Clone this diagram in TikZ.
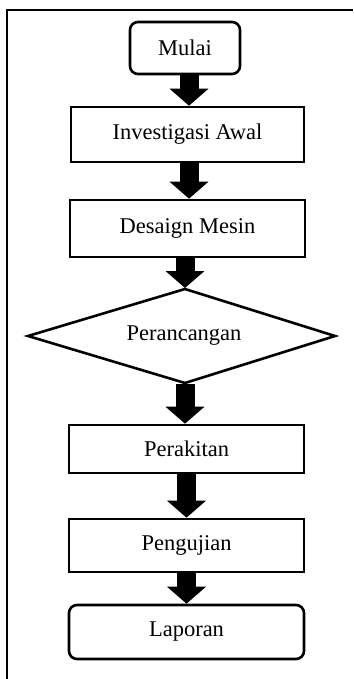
\documentclass[tikz,border=0pt]{standalone}
\usepackage{fontspec}
\setmainfont{Liberation Serif}
\usetikzlibrary{arrows.meta}
\begin{document}
\begin{tikzpicture}[x=1pt,y=1pt,
  lbl/.style={inner sep=0pt, font=\fontsize{22.5}{26}\selectfont},
  box/.style={lbl, draw=black, line width=2.6pt, fill=white},
  rbox/.style={box, rounded corners=8pt},
  dialine/.style={draw=black, line width=2.6pt, line join=miter, fill=white},
  blockarrow/.style={line width=19pt, -{Triangle[width=38pt,length=17pt]}}]
\useasboundingbox (0,0) rectangle (353,-679);
\fill[white] (0,0) rectangle (353,-679);
\coordinate (f1) at (353,-10);
\coordinate (f2) at (7,-10);
\coordinate (f3) at (7,-679);
\draw[line width=1.8pt] (f1) -- (f2) -- (f3);
\node[rbox, minimum width=110pt, minimum height=52pt] (mulai) at (185,-48) {Mulai};
\node[box, minimum width=233pt, minimum height=55pt] (inv) at (187.5,-134.5) {Investigasi Awal};
\node[box, minimum width=235pt, minimum height=57pt] (des) at (187.5,-228.5) {Desaign Mesin};
\coordinate (pt) at (185,-289);
\coordinate (pr) at (335,-336);
\coordinate (pb) at (185,-383);
\coordinate (pl) at (28,-336);
\draw[dialine] (pt) -- (pr) -- (pb) -- (pl) -- cycle;
\node[lbl] (per) at (184,-336) {Perancangan};
\node[box, minimum width=235pt, minimum height=48pt] (rak) at (186.5,-449) {Perakitan};
\node[box, minimum width=235pt, minimum height=53pt] (uji) at (186.5,-545.5) {Pengujian};
\node[rbox, minimum width=235pt, minimum height=54pt] (lap) at (186.5,-632) {Laporan};
\draw[blockarrow] ([xshift=4pt]mulai.south) -- ([xshift=1.5pt]inv.north);
\draw[blockarrow] ([xshift=1.5pt]inv.south) -- ([xshift=1.5pt]des.north);
\draw[blockarrow] ([xshift=-2.5pt]des.south) -- ([yshift=1pt]pt);
\draw[blockarrow] ([yshift=-1pt]pb) -- ([xshift=-1.5pt]rak.north);
\draw[blockarrow] (rak.south) -- (uji.north);
\draw[blockarrow] (uji.south) -- (lap.north);
\end{tikzpicture}
\end{document}
